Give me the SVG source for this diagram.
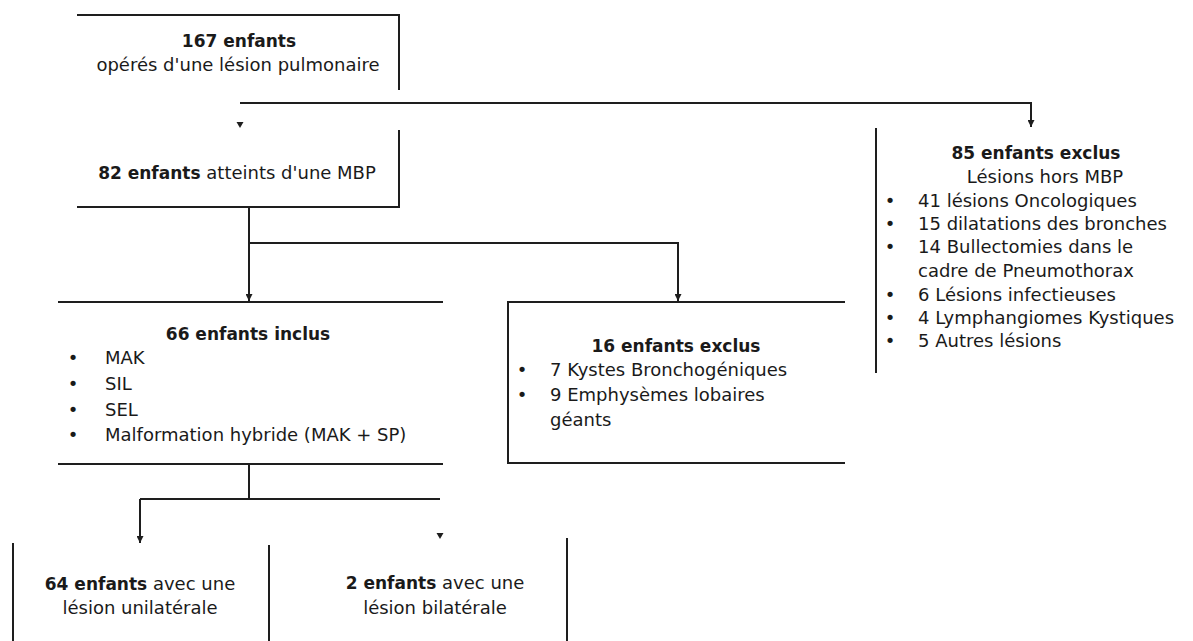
<svg xmlns="http://www.w3.org/2000/svg" width="1193" height="641" viewBox="0 0 1193 641">
<defs>
<style>
.b{fill:none;stroke:#1e1e1e;stroke-width:2}
.c{fill:none;stroke:#1e1e1e;stroke-width:2}
text{font-family:"DejaVu Sans","Liberation Sans",sans-serif;font-size:18px;fill:#1a1a1a}
.m{text-anchor:middle}
.bd{font-weight:bold}
.s{font-size:17px}
.ah{fill:#1e1e1e}
</style>
<marker id="arr" viewBox="0 0 10 10" refX="10" refY="5" markerWidth="7" markerHeight="7" markerUnits="userSpaceOnUse" orient="auto">
<path d="M0,0 L10,5 L0,10 z" fill="#1e1e1e"/>
</marker>
</defs>
<rect width="1193" height="641" fill="#ffffff"/>

<g id="connectors">
<path class="c" d="M240,103 H1031 V127" marker-end="url(#arr)"/>
<path class="ah" d="M236.5,122 L243.5,122 L240,128 z"/>
<path class="c" d="M249,207 V301" marker-end="url(#arr)"/>
<path class="c" d="M249,243 H678 V301" marker-end="url(#arr)"/>
<path class="c" d="M249,464 V499"/>
<path class="c" d="M140,499 H440"/>
<path class="c" d="M140,499 V543" marker-end="url(#arr)"/>
<path class="ah" d="M436.5,533 L443.5,533 L440,539 z"/>
</g>

<g id="n167">
<path class="b" d="M77,15 H399 V90"/>
<text class="m" x="239" y="47"><tspan class="bd s">167 enfants</tspan></text>
<text class="m" x="238" y="71">opérés d'une lésion pulmonaire</text>
</g>

<g id="n82">
<path class="b" d="M399,130 V207 H77"/>
<text class="m" x="237" y="179"><tspan class="bd s">82 enfants</tspan> atteints d'une MBP</text>
</g>

<g id="n66">
<path class="b" d="M58,302 H443 M58,464 H443"/>
<text class="m bd s" x="248" y="340">66 enfants inclus</text>
<text class="m" x="73" y="364">•</text>
<text x="105" y="364">MAK</text>
<text class="m" x="73" y="390">•</text>
<text x="105" y="390">SIL</text>
<text class="m" x="73" y="416">•</text>
<text x="105" y="416">SEL</text>
<text class="m" x="73" y="441">•</text>
<text x="105" y="441">Malformation hybride (MAK + SP)</text>
</g>

<g id="n16">
<path class="b" d="M845,302 H508 V463 H845"/>
<text class="m bd s" x="676" y="352">16 enfants exclus</text>
<text class="m" x="522" y="376">•</text>
<text x="550" y="376">7 Kystes Bronchogéniques</text>
<text class="m" x="522" y="401">•</text>
<text x="550" y="401">9 Emphysèmes lobaires</text>
<text x="550" y="426">géants</text>
</g>

<g id="n85">
<path class="b" d="M876,128 V373"/>
<text class="m bd s" x="1036" y="159">85 enfants exclus</text>
<text class="m" x="1045" y="183">Lésions hors MBP</text>
<text class="m" x="890" y="207">•</text>
<text x="918" y="207">41 lésions Oncologiques</text>
<text class="m" x="890" y="230">•</text>
<text x="918" y="230">15 dilatations des bronches</text>
<text class="m" x="890" y="253">•</text>
<text x="918" y="253">14 Bullectomies dans le</text>
<text x="918" y="277">cadre de Pneumothorax</text>
<text class="m" x="890" y="301">•</text>
<text x="918" y="301">6 Lésions infectieuses</text>
<text class="m" x="890" y="324">•</text>
<text x="918" y="324">4 Lymphangiomes Kystiques</text>
<text class="m" x="890" y="347">•</text>
<text x="918" y="347">5 Autres lésions</text>
</g>

<g id="n64">
<path class="b" d="M13,543 V641 M269,545 V641"/>
<text class="m" x="140" y="590"><tspan class="bd s">64 enfants</tspan> avec une</text>
<text class="m" x="140" y="614">lésion unilatérale</text>
</g>

<g id="n2">
<path class="b" d="M567,538 V641"/>
<text class="m" x="435" y="589"><tspan class="bd s">2 enfants</tspan> avec une</text>
<text class="m" x="435" y="614">lésion bilatérale</text>
</g>
</svg>
